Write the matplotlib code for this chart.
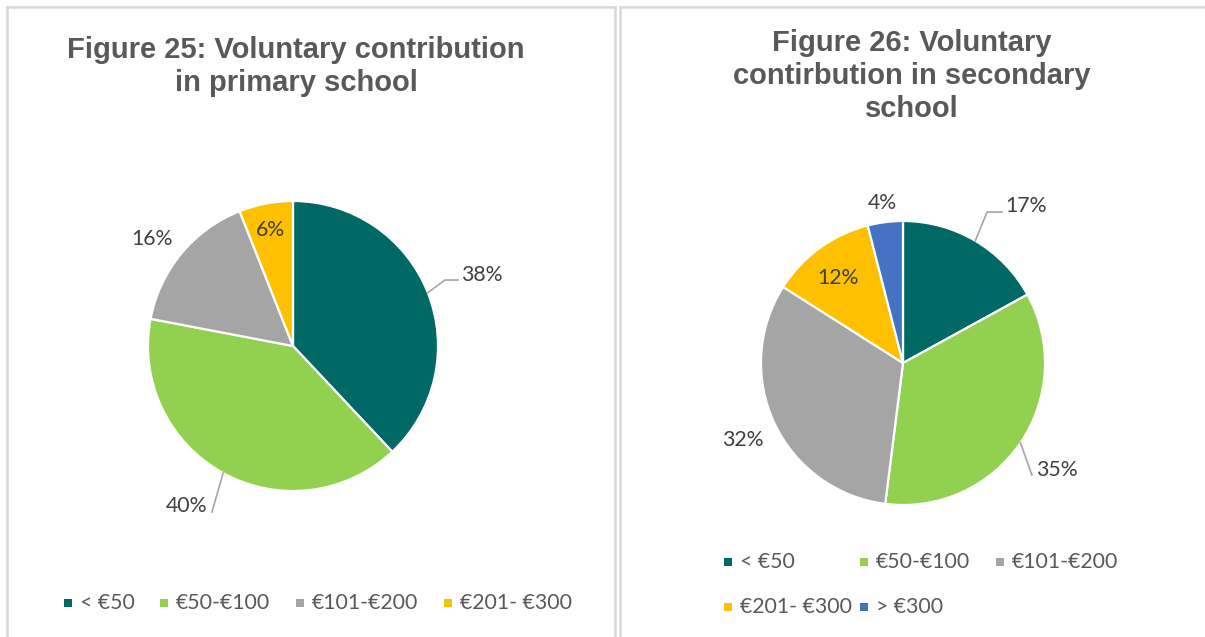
import numpy as np
import matplotlib
matplotlib.use('Agg')
import matplotlib.pyplot as plt
from matplotlib.patches import Rectangle
from matplotlib.lines import Line2D

# ---------------- data ----------------
primary_labels = ['< €50', '€50-€100', '€101-€200', '€201- €300']
primary_values = [38, 40, 16, 6]
secondary_labels = ['< €50', '€50-€100', '€101-€200', '€201- €300', '> €300']
secondary_values = [17, 35, 32, 12, 4]
primary_title = ['Figure 25: Voluntary contribution', 'in primary school']
secondary_title = ['Figure 26: Voluntary', 'contirbution in secondary', 'school']

# ---------------- style / layout ----------------
colors = ['#006865', '#92D050', '#A5A5A5', '#FFC000', '#4472C4']
W, H = 1205, 637
TITLE_C = '#595959'
LABEL_C = '#404040'
LEG_C = '#595959'
LEAD_C = '#A6A6A6'
LFONT = 'Lato'
FS = 15.3

fig = plt.figure(figsize=(W / 100, H / 100), dpi=100)
fig.patch.set_facecolor('white')


def fx(x):
    return x / W


def fy(y):
    return 1 - y / H


# panel borders
for (x0, y0, x1, y1) in [(7, 7, 7, 700), (7, 7, 615, 7), (615, 7, 615, 700),
                         (620, 7, 620, 700), (620, 7, 1300, 7)]:
    fig.add_artist(Line2D([fx(x0), fx(x1)], [fy(y0), fy(y1)], transform=fig.transFigure,
                          color='#D9D9D9', lw=1.8, solid_capstyle='projecting'))


def make_pie(cx, cy, r, values, label_layout, leaders):
    ax = fig.add_axes([fx(cx - r), fy(cy + r), 2 * r / W, 2 * r / H])
    wedges, _ = ax.pie(values, colors=colors[:len(values)], startangle=90,
                       counterclock=False, radius=1,
                       wedgeprops=dict(edgecolor='white', linewidth=1.6))
    ax.set_xlim(-1, 1)
    ax.set_ylim(-1, 1)
    ax.set_aspect('equal')
    ax.axis('off')
    for i, (w, v) in enumerate(zip(wedges, values)):
        lx, ly, ha = label_layout[i]
        ax.text(lx, ly, f'{v}%', ha=ha, va='center', fontsize=FS, family=LFONT,
                color=LABEL_C, clip_on=False)
        if i in leaders:
            mid = np.deg2rad((w.theta1 + w.theta2) / 2)
            pts = [(np.cos(mid), np.sin(mid))] + leaders[i]
            xs, ys = zip(*pts)
            ax.add_line(Line2D(xs, ys, color=LEAD_C, lw=1.2, clip_on=False))
    return ax


# left pie: center (293,346), r=145
make_pie(293, 346, 145, primary_values,
         [(1.159, 0.49, 'left'), (-0.59, -1.10, 'right'),
          (-0.972, 0.738, 'center'), (-0.159, 0.80, 'center')],
         {0: [(1.048, 0.455), (1.138, 0.455)],
          1: [(-0.559, -1.145)]})

# right pie: center (903,363), r=142
make_pie(903, 363, 142, secondary_values,
         [(0.718, 1.106, 'left'), (0.937, -0.754, 'left'),
          (-1.127, -0.542, 'center'), (-0.458, 0.599, 'center'),
          (-0.148, 1.127, 'center')],
         {0: [(0.592, 1.063), (0.697, 1.063)],
          1: [(0.908, -0.789)]})

# titles
for line, yb in zip(primary_title, [58, 91]):
    fig.text(fx(296), fy(yb), line, ha='center', va='baseline', fontsize=21,
             fontweight='bold', family='Liberation Sans', color=TITLE_C)
for line, yb in zip(secondary_title, [51, 84, 117]):
    fig.text(fx(912), fy(yb), line, ha='center', va='baseline', fontsize=21,
             fontweight='bold', family='Liberation Sans', color=TITLE_C)


# legends (manual)
def legend_item(xc, yc, label, color):
    s = 8
    fig.add_artist(Rectangle((fx(xc - s / 2), fy(yc + s / 2)), s / W, s / H,
                             transform=fig.transFigure, facecolor=color,
                             edgecolor='none'))
    fig.text(fx(xc + 12), fy(yc), label, ha='left', va='center', fontsize=FS,
             family=LFONT, color=LEG_C)


for xc, lab, col in zip([68, 164, 300, 448], primary_labels, colors):
    legend_item(xc, 603, lab, col)

sec_pos = [(728, 562), (864, 562), (1000, 562), (728, 607), (864, 607)]
for (xc, yc), lab, col in zip(sec_pos, secondary_labels, colors):
    legend_item(xc, yc, lab, col)

fig.savefig('out.png', dpi=100, facecolor='white')
